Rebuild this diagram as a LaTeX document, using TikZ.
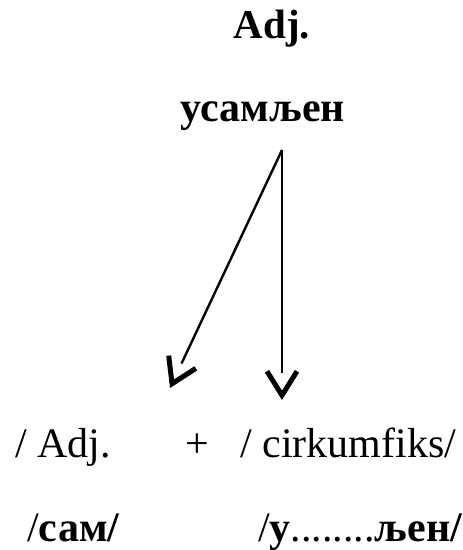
\documentclass[tikz,border=0pt]{standalone}
\usepackage{fontspec}
\setmainfont{Liberation Serif}
\usetikzlibrary{arrows.meta, positioning, decorations.markings}

\tikzset{
  lbl/.style={inner sep=0pt, anchor=base, font=\fontsize{42}{46}\selectfont},
  vhead/.style={line width=2.4pt, shorten >=27pt,
    postaction={decorate, decoration={markings,
      mark=at position 1 with {\arrow[line width=5pt]{Straight Barb[length=24pt, width=30pt]}}}}}
}

\begin{document}
\begin{tikzpicture}[x=1pt, y=-1pt]
  \useasboundingbox (0,0) rectangle (463,550);
  % naslov
  \node[lbl, font=\fontsize{41}{45}\selectfont\bfseries] (naslov) at (272,38) {Adj.};
  \node[lbl, font=\fontsize{42}{46}\selectfont\bfseries] (rec) at (263,121) {усамљен};
  % strelice
  \coordinate (vrh) at (282,150);
  \coordinate (levo) at (170,388);
  \coordinate (desno) at (282,400);
  \draw[vhead] (vrh) -- (levo);
  \draw[vhead] (vrh) -- (desno);
  % struktura
  \node[lbl, anchor=base west] (adj) at (15,457) {/ Adj.};
  \node[lbl] (plus) at (197,457) {+};
  \node[lbl, anchor=base west] (cirk) at (240,457) {/ cirkumfiks/};
  \node[lbl, anchor=base west] (osnova) at (27,541) {/\textbf{сам/}};
  \node[lbl, anchor=base west] (afiks) at (258,541) {/\textbf{у}........\textbf{љен/}};
\end{tikzpicture}
\end{document}
